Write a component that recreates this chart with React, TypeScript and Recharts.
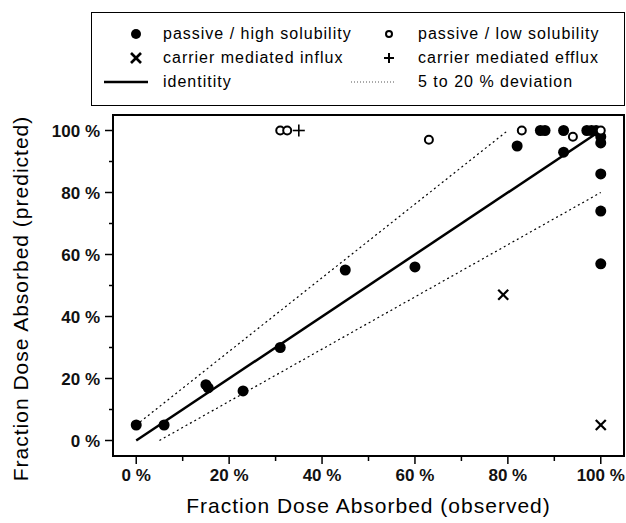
import React from "react";
import {
  ScatterChart,
  Scatter,
  XAxis,
  YAxis,
  ReferenceArea,
  Legend,
} from "recharts";

// observed (x) vs predicted (y) fraction absorbed, in %
const highSolX = [0, 6, 15, 15.5, 23, 31, 45, 60, 82, 87, 88, 92, 92, 97, 98, 99, 100, 100, 100, 100, 100];
const highSolY = [5, 5, 18, 17, 16, 30, 55, 56, 95, 100, 100, 100, 93, 100, 100, 100, 98, 96, 86, 74, 57];
const lowSolX = [31, 32.5, 63, 83, 94, 100];
const lowSolY = [100, 100, 97, 100, 98, 100];
const influxX = [79, 100];
const influxY = [47, 5];
const effluxX = [35];
const effluxY = [100];
const identityX = [0, 100];
const identityY = [0, 100];
const upperDevX = [0, 80];
const upperDevY = [5, 100];
const lowerDevX = [5, 100];
const lowerDevY = [0, 80];

const ticks = [0, 10, 20, 30, 40, 50, 60, 70, 80, 90, 100];

const toPoints = (xs: number[], ys: number[]) => xs.map((x, i) => ({ x, y: ys[i] }));

const FONT = "'Liberation Sans', Arial, sans-serif";

const FilledDot = (p: any) => <circle cx={p.cx} cy={p.cy} r={5.5} fill="#000" />;
const OpenDot = (p: any) => (
  <circle cx={p.cx} cy={p.cy} r={4} fill="#fff" stroke="#000" strokeWidth={2} />
);
const Cross = (p: any) => (
  <g stroke="#000" strokeWidth={2.2}>
    <line x1={p.cx - 5} y1={p.cy - 5} x2={p.cx + 5} y2={p.cy + 5} />
    <line x1={p.cx - 5} y1={p.cy + 5} x2={p.cx + 5} y2={p.cy - 5} />
  </g>
);
const Plus = (p: any) => (
  <g stroke="#000" strokeWidth={1.6}>
    <line x1={p.cx - 6} y1={p.cy} x2={p.cx + 6} y2={p.cy} />
    <line x1={p.cx} y1={p.cy - 6} x2={p.cx} y2={p.cy + 6} />
  </g>
);
const NoShape = () => <g />;

const XTick = (props: any) => {
  const { x, y, payload } = props;
  const major = payload.value % 20 === 0;
  return (
    <g>
      <line x1={x} y1={y} x2={x} y2={y + (major ? 8 : 5)} stroke="#000" strokeWidth={1.5} />
      {major && (
        <text x={x} y={y + 25} textAnchor="middle" fontSize={17} fontWeight="bold" fontFamily={FONT} fill="#111">
          {`${payload.value} %`}
        </text>
      )}
    </g>
  );
};

const YTick = (props: any) => {
  const { x, y, payload } = props;
  const major = payload.value % 20 === 0;
  return (
    <g>
      <line x1={x - (major ? 8 : 4)} y1={y} x2={x} y2={y} stroke="#000" strokeWidth={1.5} />
      {major && (
        <text x={x - 13} y={y + 6} textAnchor="end" fontSize={17} fontWeight="bold" fontFamily={FONT} fill="#111">
          {`${payload.value} %`}
        </text>
      )}
    </g>
  );
};

function LegendBox() {
  const t = { fontSize: 16, fontFamily: FONT, fill: "#000", letterSpacing: 1 };
  return (
    <svg width={532} height={92} style={{ display: "block", border: "1px solid #000", background: "#fff" }}>
      <circle cx={44} cy={21} r={5} fill="#000" />
      <text x={71} y={26} {...t}>passive / high solubility</text>
      <circle cx={297} cy={21} r={3} fill="#fff" stroke="#000" strokeWidth={2} />
      <text x={326} y={26} {...t}>passive / low solubility</text>
      <g stroke="#000" strokeWidth={2.6}>
        <line x1={39} y1={40} x2={49} y2={50} />
        <line x1={39} y1={50} x2={49} y2={40} />
      </g>
      <text x={71} y={50} {...t}>carrier mediated influx</text>
      <g stroke="#000" strokeWidth={2}>
        <line x1={292} y1={45} x2={302} y2={45} />
        <line x1={297} y1={40} x2={297} y2={50} />
      </g>
      <text x={326} y={50} {...t}>carrier mediated efflux</text>
      <line x1={12} y1={69} x2={56} y2={69} stroke="#000" strokeWidth={2.5} />
      <text x={71} y={74} {...t}>identitity</text>
      <line x1={259} y1={69} x2={302} y2={69} stroke="#555" strokeWidth={1} strokeDasharray="1 2" />
      <text x={326} y={74} {...t}>5 to 20 % deviation</text>
    </svg>
  );
}

export default function App() {
  return (
    <div style={{ width: 626, height: 523, background: "#fff" }}>
      <style>{"body{margin:0;background:#fff}"}</style>
      <ScatterChart width={626} height={523} margin={{ top: 115, right: 2, bottom: 0, left: 0 }}>
        <XAxis
          type="number"
          dataKey="x"
          domain={[-5, 105]}
          ticks={ticks}
          allowDataOverflow
          height={67}
          axisLine={false}
          tickLine={false}
          tickSize={0}
          tickMargin={0}
          tick={<XTick />}
          label={{
            content: ({ viewBox }: any) => (
              <text
                x={viewBox.x + viewBox.width / 2}
                y={viewBox.y + 57}
                textAnchor="middle"
                fontSize={21}
                letterSpacing={1}
                fontFamily={FONT}
                fill="#000"
              >
                Fraction Dose Absorbed (observed)
              </text>
            ),
          }}
        />
        <YAxis
          type="number"
          dataKey="y"
          domain={[-5, 105]}
          ticks={ticks}
          allowDataOverflow
          width={113}
          axisLine={false}
          tickLine={false}
          tickSize={0}
          tickMargin={0}
          tick={<YTick />}
          label={{
            content: ({ viewBox }: any) => {
              const cx = 28;
              const cy = viewBox.y + viewBox.height / 2 + 13;
              return (
                <text
                  x={cx}
                  y={cy}
                  transform={`rotate(-90 ${cx} ${cy})`}
                  textAnchor="middle"
                  fontSize={21}
                  letterSpacing={1}
                  fontFamily={FONT}
                  fill="#000"
                >
                  Fraction Dose Absorbed (predicted)
                </text>
              );
            },
          }}
        />
        <ReferenceArea x1={-5} x2={105} y1={-5} y2={105} fill="none" stroke="#000" strokeWidth={2} />
        <Legend
          layout="horizontal"
          verticalAlign="middle"
          align="center"
          wrapperStyle={{ position: "absolute", left: 91, top: 12, width: 534, height: 94 }}
          content={() => <LegendBox />}
        />
        <Scatter
          name="upper deviation"
          data={toPoints(upperDevX, upperDevY)}
          line={{ stroke: "#000", strokeWidth: 1.2, strokeDasharray: "2 3" }}
          shape={NoShape}
          isAnimationActive={false}
          legendType="none"
        />
        <Scatter
          name="lower deviation"
          data={toPoints(lowerDevX, lowerDevY)}
          line={{ stroke: "#000", strokeWidth: 1.2, strokeDasharray: "2 3" }}
          shape={NoShape}
          isAnimationActive={false}
          legendType="none"
        />
        <Scatter
          name="identitity"
          data={toPoints(identityX, identityY)}
          line={{ stroke: "#000", strokeWidth: 2.5 }}
          shape={NoShape}
          isAnimationActive={false}
          legendType="none"
        />
        <Scatter name="passive / high solubility" data={toPoints(highSolX, highSolY)} shape={FilledDot} isAnimationActive={false} />
        <Scatter name="passive / low solubility" data={toPoints(lowSolX, lowSolY)} shape={OpenDot} isAnimationActive={false} />
        <Scatter name="carrier mediated influx" data={toPoints(influxX, influxY)} shape={Cross} isAnimationActive={false} />
        <Scatter name="carrier mediated efflux" data={toPoints(effluxX, effluxY)} shape={Plus} isAnimationActive={false} />
      </ScatterChart>
    </div>
  );
}
